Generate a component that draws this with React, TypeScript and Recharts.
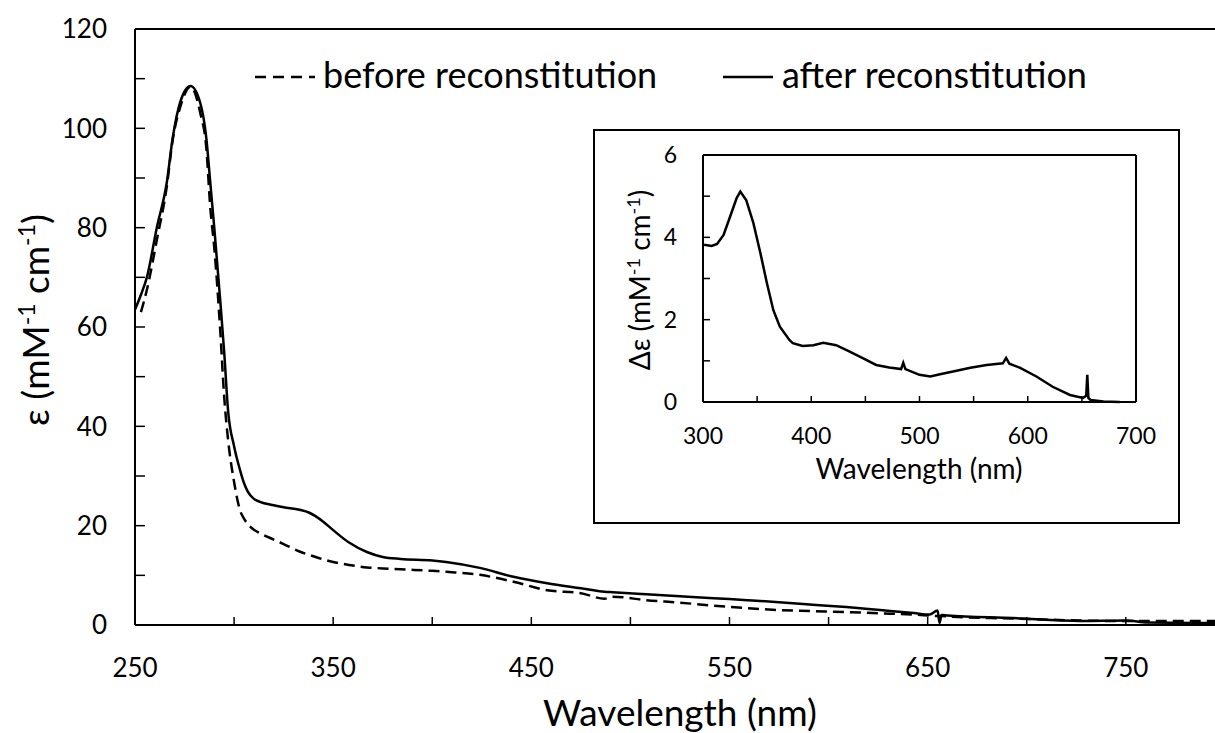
import React from 'react';
import { LineChart, Line, XAxis, YAxis, ReferenceLine } from 'recharts';

// ---------- main chart data ----------
const wavelengths = [250, 253, 256, 261, 266, 269, 273, 278, 283, 286, 288, 290, 293, 295, 297, 300, 303, 305, 307, 310, 313, 320, 325, 333, 338, 345, 350, 358, 367, 375, 384, 400, 407, 424, 441, 458, 475, 487, 491, 508, 525, 542, 559, 575, 592, 609, 626, 643, 651, 655, 656, 657, 660, 693, 727, 750, 761, 795];
const afterValues = [63.5, 66.5, 70, 80, 89, 98, 105.5, 108.5, 105, 98, 89, 80, 65.4, 55, 43, 36, 31.2, 28.6, 26.8, 25.4, 24.8, 24.1, 23.7, 23.2, 22.6, 20.8, 19.1, 16.6, 14.7, 13.7, 13.3, 13.0, 12.7, 11.5, 9.7, 8.4, 7.4, 6.7, 6.6, 6.2, 5.8, 5.4, 5.0, 4.6, 4.1, 3.6, 3.0, 2.4, 2.1, 2.9, 0.4, 2.0, 1.9, 1.4, 0.8, 0.9, 0.5, 0.4];
const beforeValues = [null, 63, 67.5, 77.5, 88.2, 97.6, 104.5, 108.4, 103, 96, 84, 76, 59.4, 46, 37.2, 28.8, 23.1, 21.4, 20.3, 19.2, 18.5, 17.2, 16.3, 14.8, 14.1, 13.2, 12.7, 12.1, 11.6, 11.4, 11.2, 10.9, 10.7, 10.1, 8.7, 7.0, 6.4, 5.3, 5.7, 5.0, 4.5, 3.9, 3.4, 3.0, 2.8, 2.6, 2.35, 2.1, 1.9, 1.8, 1.8, 1.8, 1.7, 1.3, 0.9, 0.8, 0.8, 0.8];
const mainXTicks = [250, 300, 350, 400, 450, 500, 550, 600, 650, 700, 750];
const mainXLabels = [250, 350, 450, 550, 650, 750];
const mainYTicks = [0, 10, 20, 30, 40, 50, 60, 70, 80, 90, 100, 110, 120];
const mainYLabels = [0, 20, 40, 60, 80, 100, 120];
const seriesNames = ['before reconstitution', 'after reconstitution'];

// ---------- inset data ----------
const insetWavelengths = [301, 308, 313, 319, 325, 331, 334.5, 340, 346.5, 353, 359, 365, 371, 380, 383, 392, 402, 411, 423, 436, 448, 460, 472, 483, 485, 487, 500, 510, 520, 531, 547, 562, 577, 580, 583, 593, 608, 623, 639, 651, 654, 655, 656, 658, 670, 685];
const insetDelta = [3.82, 3.79, 3.84, 4.06, 4.5, 4.95, 5.11, 4.9, 4.35, 3.62, 2.89, 2.23, 1.83, 1.5, 1.43, 1.36, 1.38, 1.44, 1.38, 1.22, 1.06, 0.9, 0.84, 0.8, 0.95, 0.8, 0.66, 0.62, 0.68, 0.74, 0.83, 0.9, 0.94, 1.07, 0.93, 0.83, 0.62, 0.37, 0.17, 0.1, 0.15, 0.66, 0.1, 0.05, 0.01, 0.0];
const insetXTicks = [300, 350, 400, 450, 500, 550, 600, 650, 700];
const insetXLabels = [300, 400, 500, 600, 700];
const insetYTicks = [0, 1, 2, 3, 4, 5, 6];
const insetYLabels = [0, 2, 4, 6];

const FONT = 'Lato';

const mainData = wavelengths.map((w, i) => ({ w, after: afterValues[i], before: beforeValues[i] }));
const insetData = insetWavelengths.map((w, i) => ({ w, d: insetDelta[i] }));

const MainLegend = () => (
  <svg width={900} height={70} style={{ position: 'absolute', left: 255, top: 44, display: 'block', overflow: 'visible' }}>
    <line x1={0} y1={33} x2={60} y2={33} stroke="#000" strokeWidth={2.5} strokeDasharray="11 7" />
    <text x={68} y={44} fontSize={36} fontFamily={FONT} fill="#000">{seriesNames[0]}</text>
    <line x1={468} y1={33} x2={518} y2={33} stroke="#000" strokeWidth={2.5} />
    <text x={527} y={44} fontSize={36} fontFamily={FONT} fill="#000">{seriesNames[1]}</text>
  </svg>
);

export default function App() {
  return (
    <div style={{ position: 'absolute', left: 0, top: 0, width: 1215, height: 733, background: '#fff', overflow: 'hidden' }}>
      <LineChart
        width={1215}
        height={733}
        data={mainData}
        margin={{ top: 29, right: 0, bottom: 0, left: 0 }}
      >
        <XAxis
          type="number"
          dataKey="w"
          domain={[250, 795]}
          allowDataOverflow
          ticks={mainXTicks}
          interval={0}
          height={108}
          tickSize={-8}
          tickMargin={42}
          tickFormatter={(v: number) => (mainXLabels.includes(v) ? String(v) : '')}
          tick={{ fontSize: 26, fill: '#000', fontFamily: FONT }}
          axisLine={{ stroke: '#000', strokeWidth: 2 }}
          tickLine={{ stroke: '#000', strokeWidth: 1.5 }}
          label={() => (
            <text x={680} y={726} textAnchor="middle" fontSize={37} fontFamily={FONT} fill="#000">Wavelength (nm)</text>
          )}
        />
        <YAxis
          type="number"
          domain={[0, 120]}
          ticks={mainYTicks}
          interval={0}
          width={135}
          tickSize={-10}
          tickMargin={38}
          tickFormatter={(v: number) => (mainYLabels.includes(v) ? String(v) : '')}
          tick={{ fontSize: 26, fill: '#000', fontFamily: FONT }}
          axisLine={{ stroke: '#000', strokeWidth: 2 }}
          tickLine={{ stroke: '#000', strokeWidth: 1.5 }}
          label={() => (
            <text transform="translate(49,320) rotate(-90)" textAnchor="middle" fontSize={37} fontFamily={FONT} fill="#000">
              ε (mM<tspan dy={-14} fontSize={23}>-1</tspan><tspan dy={14}> cm</tspan><tspan dy={-14} fontSize={23}>-1</tspan><tspan dy={14}>)</tspan>
            </text>
          )}
        />
        <ReferenceLine y={120} stroke="#000" strokeWidth={2} />
        <Line
          name={seriesNames[0]}
          type="monotone"
          dataKey="before"
          stroke="#000"
          strokeWidth={2.5}
          strokeDasharray="11 6"
          dot={false}
          isAnimationActive={false}
          connectNulls
        />
        <Line
          name={seriesNames[1]}
          type="monotone"
          dataKey="after"
          stroke="#000"
          strokeWidth={2.5}
          dot={false}
          isAnimationActive={false}
        />
      </LineChart>

      <MainLegend />

      <div
        style={{
          position: 'absolute',
          left: 593,
          top: 129,
          width: 583,
          height: 391,
          border: '2px solid #000',
          background: '#fff',
        }}
      >
        <LineChart
          width={583}
          height={391}
          data={insetData}
          margin={{ top: 24, right: 42, bottom: 0, left: 0 }}
        >
          <XAxis
            type="number"
            dataKey="w"
            domain={[300, 700]}
            ticks={insetXTicks}
            interval={0}
            height={120}
            tickSize={-6}
            tickMargin={32}
            tickFormatter={(v: number) => (insetXLabels.includes(v) ? String(v) : '')}
            tick={{ fontSize: 23, fill: '#000', fontFamily: FONT }}
            axisLine={{ stroke: '#000', strokeWidth: 2 }}
            tickLine={{ stroke: '#000', strokeWidth: 1.5 }}
            label={() => (
              <text x={324} y={348} textAnchor="middle" fontSize={28} fontFamily={FONT} fill="#000">Wavelength (nm)</text>
            )}
          />
          <YAxis
            type="number"
            domain={[0, 6]}
            ticks={insetYTicks}
            interval={0}
            width={108}
            tickSize={-7}
            tickMargin={33}
            tickFormatter={(v: number) => (insetYLabels.includes(v) ? String(v) : '')}
            tick={{ fontSize: 23, fill: '#000', fontFamily: FONT }}
            axisLine={{ stroke: '#000', strokeWidth: 2 }}
            tickLine={{ stroke: '#000', strokeWidth: 1.5 }}
            label={() => (
              <text transform="translate(55,149) rotate(-90)" textAnchor="middle" fontSize={28} fontFamily={FONT} fill="#000">
                Δε (mM<tspan dy={-10} fontSize={18}>-1</tspan><tspan dy={10}> cm</tspan><tspan dy={-10} fontSize={18}>-1</tspan><tspan dy={10}>)</tspan>
              </text>
            )}
          />
          <ReferenceLine y={6} stroke="#000" strokeWidth={2} />
          <ReferenceLine x={700} stroke="#000" strokeWidth={2} />
          <Line
            type="linear"
            dataKey="d"
            stroke="#000"
            strokeWidth={2.5}
            dot={false}
            isAnimationActive={false}
          />
        </LineChart>
      </div>
    </div>
  );
}
